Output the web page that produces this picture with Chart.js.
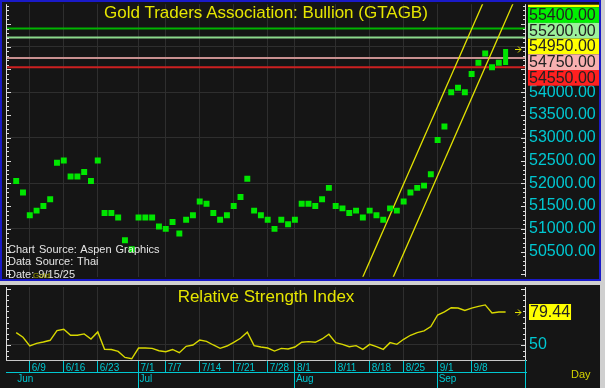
<!DOCTYPE html>
<html>
<head>
<meta charset="utf-8">
<script src="https://cdn.jsdelivr.net/npm/chart.js@4.4.1/dist/chart.umd.min.js"></script>
<style>
  body { margin: 0; width: 605px; height: 388px; overflow: hidden; position: relative; background: #cfcfcf; font-family: Arial, "Liberation Sans", sans-serif; }
  #mainBox { position: absolute; left: 0; top: 0; width: 601px; height: 281px; background: #151515; }
  #mainFrame { position: absolute; left: 0; top: 0; width: 601px; height: 281px; box-sizing: border-box; border: 2px solid #1a1ac8; pointer-events: none; }
  #rsiBox { position: absolute; left: 0; top: 285px; width: 600px; height: 103px; background: #151515; }
  .txt { position: absolute; white-space: pre; }
  .title { left: 6px; width: 520px; text-align: center; font-size: 17px; line-height: 20px; color: #e6e600; }
  .src { left: 8px; font-size: 11px; line-height: 13px; color: #e4e4e4; word-spacing: 1px; }
</style>
</head>
<body>
<div id="mainBox"><canvas id="mainChart" width="601" height="281"></canvas></div>
<div id="rsiBox"><canvas id="rsiChart" width="600" height="103"></canvas></div>
<div id="mainFrame"></div>

<div class="txt title" style="top:3px">Gold Traders Association: Bullion (GTAGB)</div>
<div class="txt src" style="top:243px">Chart Source: Aspen Graphics</div>
<div class="txt src" style="top:255px">Data Source: Thai</div>
<div class="txt src" style="top:268px">Date: 9/15/25</div>
<div class="txt" style="left:33px;top:271px;font-size:8px;color:#a8a800">Gold</div>
<div class="txt title" style="top:287px">Relative Strength Index</div>
<div class="txt" style="left:571px;top:368px;font-size:11px;color:#d4d400">Day</div>

<script>
// trading days shown on the chart
const days = [
  '6/5', '6/6',
  '6/9', '6/10', '6/11', '6/12', '6/13',
  '6/16', '6/17', '6/18', '6/19', '6/20',
  '6/23', '6/24', '6/25', '6/26', '6/27',
  '6/30', '7/1', '7/2', '7/3', '7/4',
  '7/7', '7/8', '7/9', '7/10', '7/11',
  '7/14', '7/15', '7/16', '7/17', '7/18',
  '7/21', '7/22', '7/23', '7/24', '7/25',
  '7/28', '7/29', '7/30', '7/31', '8/1',
  '8/4', '8/5', '8/6', '8/7', '8/8',
  '8/11', '8/12', '8/13', '8/14', '8/15',
  '8/18', '8/19', '8/20', '8/21', '8/22',
  '8/25', '8/26', '8/27', '8/28', '8/29',
  '9/1', '9/2', '9/3', '9/4', '9/5',
  '9/8', '9/9', '9/10', '9/11', '9/12',
  '9/15'
];

// daily closes (baht)
const closes = [
  52050, 51800,
  51300, 51400, 51500, 51650, 52450,
  52500, 52150, 52150, 52250, 52050,
  52500, 51350, 51350, 51250, 50750,
  50550, 51250, 51250, 51250, 51050,
  51000, 51150, 50900, 51200, 51300,
  51600, 51550, 51350, 51200, 51300,
  51500, 51700, 52100, 51400, 51300,
  51200, 51000, 51200, 51100, 51200,
  51550, 51550, 51500, 51650, 51900,
  51500, 51450, 51350, 51400, 51250,
  51400, 51300, 51200, 51450, 51400,
  51600, 51800, 51900, 51950, 52200,
  52950, 53250, 54000, 54100, 54000,
  54400, 54650, 54850, 54550, 54650,
  54950
];
const lastLow = 54600;

// 14-day RSI
const rsi = [
  61.1, 56.9,
  49.1, 51.5, 52.7, 54.2, 62.9,
  64.1, 58.7, 58.7, 59.9, 55.4,
  61.7, 46.1, 46.0, 44.3, 38.9,
  37.7, 47.3, 47.3, 47.0, 44.9,
  44.0, 46.0, 43.1, 48.8, 50.0,
  54.5, 53.3, 50.0, 47.0, 49.1,
  52.4, 56.0, 61.4, 49.4, 48.2,
  47.3, 44.6, 47.0, 46.4, 48.2,
  52.5, 53.0, 52.4, 55.4, 59.6,
  52.1, 50.6, 48.5, 49.4, 46.1,
  50.6, 48.5, 46.1, 52.1, 50.6,
  55.1, 58.7, 61.1, 62.6, 66.5,
  76.8, 79.5, 83.3, 83.0, 80.9,
  83.0, 84.5, 85.8, 78.6, 79.5,
  79.44
];

const weekLabels = ['6/9', '6/16', '6/23', '7/1', '7/7', '7/14', '7/21', '7/28', '8/1', '8/11', '8/18', '8/25', '9/1', '9/8'];
const monthLabels = ['Jun', 'Jul', 'Aug', 'Sep'];
const monthStarts = ['6/5', '7/1', '8/1', '9/1'];

const priceTicks = [50500, 51000, 51500, 52000, 52500, 53000, 53500, 54000, 54500, 55000, 55500];
const rsiTicks = [50];

// horizontal price levels and the tags on the right axis
const levels = [55400, 55200, 54750, 54550];
const tagValues = [55600, 55400, 55200, closes[closes.length - 1], 54750, 54550];

// two parallel trend lines: [day index, price] at each end
const trendA = [[50, 49605], [70, 56410]];
const trendB = [[55, 49780], [75, 56600]];

// ---- styles ----
const GREEN = '#00e600';
const YELLOW = '#e2e200';
const CYAN = '#00c8d2';
const GRID = '#2e2e2e';
const levelColors = ['#00b400', '#8cd88c', '#c89090', '#cc2020'];
const tagColors = ['#ffff00', '#00f000', '#9cf09c', '#ffff00', '#f8b0b0', '#ff2020'];

const X_MIN = -1.5, X_MAX = 75;
const weekIdx = weekLabels.map(d => days.indexOf(d));
const monthIdx = monthStarts.map(d => days.indexOf(d));

Chart.defaults.font.family = 'Arial, "Liberation Sans", sans-serif';

// keep label overhang from shrinking the plot area
function noPad(s) {
  s.paddingTop = 0; s.paddingBottom = 0; s.paddingLeft = 0; s.paddingRight = 0;
}

function drawEdgeTicks(ctx, a, scale, from, step, major) {
  ctx.save();
  ctx.strokeStyle = '#dcdcdc';
  ctx.lineWidth = 1;
  ctx.beginPath();
  ctx.moveTo(a.left + 0.5, a.top); ctx.lineTo(a.left + 0.5, a.bottom);
  ctx.moveTo(a.right - 0.5, a.top); ctx.lineTo(a.right - 0.5, a.bottom);
  for (let v = from; v <= scale.max; v += step) {
    const py = Math.round(scale.getPixelForValue(v)) + 0.5;
    const len = v % major === 0 ? 5 : 3;
    ctx.moveTo(a.left, py); ctx.lineTo(a.left + len, py);
    ctx.moveTo(a.right - len, py); ctx.lineTo(a.right, py);
  }
  ctx.stroke();
  ctx.restore();
}

function drawArrow(ctx, x, y) {
  ctx.save();
  ctx.strokeStyle = YELLOW;
  ctx.lineWidth = 1;
  ctx.beginPath();
  ctx.moveTo(x, y + 0.5); ctx.lineTo(x + 6, y + 0.5);
  ctx.moveTo(x + 3, y - 2.5); ctx.lineTo(x + 6, y + 0.5); ctx.lineTo(x + 3, y + 3.5);
  ctx.stroke();
  ctx.restore();
}

const mainDecor = {
  id: 'mainDecor',
  afterDraw(chart) {
    const { ctx, chartArea: a, scales: { y } } = chart;
    drawEdgeTicks(ctx, a, y, Math.ceil(y.min / 100) * 100, 100, 500);
    drawArrow(ctx, a.right - 11, Math.round(y.getPixelForValue(closes[closes.length - 1])));

    // stacked value tags
    const h = 15.7;
    ctx.save();
    ctx.beginPath();
    ctx.rect(a.right, a.top + 0.5, chart.width - a.right, chart.height);
    ctx.clip();
    ctx.font = '16px Arial, "Liberation Sans", sans-serif';
    ctx.textBaseline = 'middle';
    tagValues.forEach((v, i) => {
      const top = a.top + 3 - h + i * h;
      ctx.fillStyle = tagColors[i];
      ctx.fillRect(a.right + 2, top, 71, h);
      ctx.fillStyle = '#222';
      ctx.fillText(v.toFixed(2), a.right + 3, top + h / 2 + 0.5);
    });
    ctx.restore();
  }
};

const rsiDecor = {
  id: 'rsiDecor',
  afterDraw(chart) {
    const { ctx, chartArea: a, scales: { y } } = chart;
    drawEdgeTicks(ctx, a, y, 40, 5, 50);
    const last = rsi[rsi.length - 1];
    const py = Math.round(y.getPixelForValue(last));
    drawArrow(ctx, a.right - 11, py);

    ctx.save();
    ctx.font = '16px Arial, "Liberation Sans", sans-serif';
    ctx.textBaseline = 'middle';
    const txt = last.toFixed(2);
    const w = ctx.measureText(txt).width;
    ctx.fillStyle = '#ffff00';
    ctx.fillRect(a.right + 3, py - 8, w + 2, 16);
    ctx.fillStyle = '#222';
    ctx.fillText(txt, a.right + 4, py + 0.5);
    // right edge of the date strip
    ctx.strokeStyle = CYAN;
    ctx.beginPath();
    ctx.moveTo(a.right - 0.5, a.bottom); ctx.lineTo(a.right - 0.5, chart.height);
    ctx.stroke();
    ctx.restore();
  }
};

new Chart(document.getElementById('mainChart'), {
  type: 'scatter',
  data: {
    datasets: [
      {
        type: 'scatter',
        data: closes.slice(0, -1).map((v, i) => ({ x: i, y: v })),
        pointStyle: 'rect',
        pointRadius: 4.2,
        backgroundColor: GREEN,
        borderWidth: 0
      },
      {
        type: 'line',
        data: [{ x: closes.length - 1, y: lastLow }, { x: closes.length - 1, y: closes[closes.length - 1] }],
        borderColor: GREEN,
        borderWidth: 5,
        borderCapStyle: 'butt',
        pointRadius: 0
      },
      ...[trendA, trendB].map(t => ({
        type: 'line',
        data: t.map(([x, y]) => ({ x, y })),
        borderColor: YELLOW,
        borderWidth: 1.3,
        pointRadius: 0
      })),
      ...levels.map((v, i) => ({
        type: 'line',
        data: [{ x: X_MIN, y: v }, { x: X_MAX, y: v }],
        borderColor: levelColors[i],
        borderWidth: 2,
        pointRadius: 0
      }))
    ]
  },
  options: {
    responsive: false,
    animation: false,
    events: [],
    layout: { padding: { left: 6, top: 4, bottom: 4, right: 0 } },
    plugins: { legend: { display: false }, tooltip: { enabled: false } },
    scales: {
      x: {
        type: 'linear',
        min: X_MIN,
        max: X_MAX,
        afterBuildTicks: s => { s.ticks = weekIdx.map(v => ({ value: v })); },
        afterFit: s => { s.height = 0; noPad(s); },
        ticks: { display: false },
        grid: { color: GRID, drawTicks: false },
        border: { display: false }
      },
      y: {
        position: 'right',
        min: 49947,
        max: 55934,
        afterBuildTicks: s => { s.ticks = priceTicks.map(v => ({ value: v })); },
        afterFit: s => { s.width = 75; noPad(s); },
        ticks: {
          color: CYAN,
          padding: 3,
          font: { size: 16 },
          callback: v => v.toFixed(2)
        },
        grid: {
          color: ctx => (ctx.tick && ctx.tick.value % 1000 === 0 ? GRID : 'transparent'),
          drawTicks: false
        },
        border: { display: false }
      }
    }
  },
  plugins: [mainDecor]
});

new Chart(document.getElementById('rsiChart'), {
  type: 'line',
  data: {
    datasets: [{
      data: rsi.map((v, i) => ({ x: i, y: v })),
      borderColor: '#d8d800',
      borderWidth: 1.4,
      pointRadius: 0,
      tension: 0
    }]
  },
  options: {
    responsive: false,
    animation: false,
    events: [],
    layout: { padding: { left: 6, top: 2, bottom: 0, right: 0 } },
    plugins: { legend: { display: false }, tooltip: { enabled: false } },
    scales: {
      x: {
        type: 'linear',
        position: 'bottom',
        weight: 0,
        min: X_MIN,
        max: X_MAX,
        afterBuildTicks: s => { s.ticks = weekIdx.map(v => ({ value: v })); },
        afterFit: s => { s.height = 12; noPad(s); },
        ticks: {
          color: CYAN,
          font: { size: 10 },
          padding: -9.5,
          align: 'start',
          labelOffset: 2,
          maxRotation: 0,
          autoSkip: false,
          callback: (v, i) => weekLabels[i]
        },
        grid: { color: GRID, tickColor: CYAN, tickLength: 12 },
        border: { color: '#c8c8c8' }
      },
      x2: {
        type: 'linear',
        position: 'bottom',
        weight: 1,
        min: X_MIN,
        max: X_MAX,
        afterBuildTicks: s => { s.ticks = monthIdx.map(v => ({ value: v })); },
        afterFit: s => { s.height = 16; noPad(s); },
        ticks: {
          color: CYAN,
          font: { size: 10 },
          padding: -15,
          align: 'start',
          labelOffset: 1,
          maxRotation: 0,
          autoSkip: false,
          callback: (v, i) => monthLabels[i]
        },
        grid: {
          drawOnChartArea: false,
          tickLength: 16,
          tickColor: ctx => (ctx.index === 0 ? 'transparent' : CYAN)
        },
        border: { color: CYAN }
      },
      y: {
        position: 'right',
        min: 36.6,
        max: 101.8,
        afterBuildTicks: s => { s.ticks = rsiTicks.map(v => ({ value: v })); },
        afterFit: s => { s.width = 74; noPad(s); },
        ticks: { color: CYAN, padding: 3, font: { size: 16 } },
        grid: { color: GRID, drawTicks: false },
        border: { display: false }
      }
    }
  },
  plugins: [rsiDecor]
});
</script>
</body>
</html>
